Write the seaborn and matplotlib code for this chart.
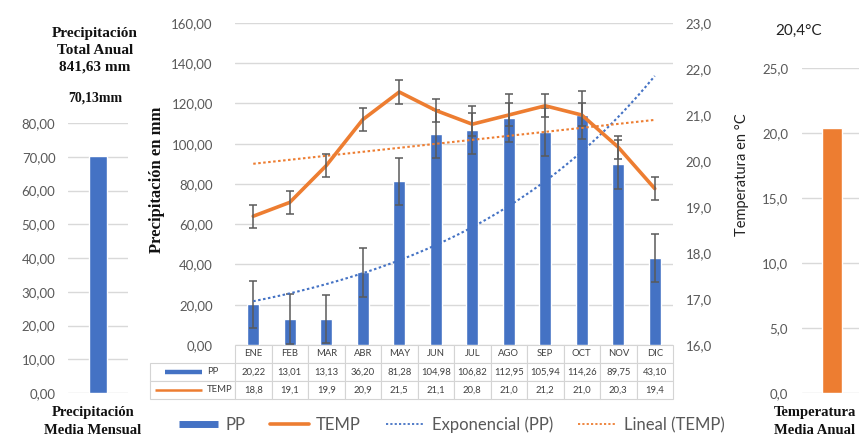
import numpy as np
import pandas as pd
import matplotlib
matplotlib.use("Agg")
import matplotlib.pyplot as plt
import seaborn as sns
from matplotlib.lines import Line2D

# ---- data ----
meses = ["ENE", "FEB", "MAR", "ABR", "MAY", "JUN", "JUL", "AGO", "SEP", "OCT", "NOV", "DIC"]
pp = [20.22, 13.01, 13.13, 36.20, 81.28, 104.98, 106.82, 112.95, 105.94, 114.26, 89.75, 43.10]
temp = [18.8, 19.1, 19.9, 20.9, 21.5, 21.1, 20.8, 21.0, 21.2, 21.0, 20.3, 19.4]
pp_err = [11.6, 12.3, 11.9, 12.2, 11.8, 12.0, 12.0, 12.0, 12.0, 12.0, 12.0, 12.0]
temp_err = [0.25, 0.25, 0.25, 0.25, 0.26, 0.25, 0.25, 0.25, 0.25, 0.25, 0.25, 0.25]
series = ["PP", "TEMP"]
pp_total_anual = 841.63
pp_media_mensual = 70.13
temp_media_anual = 20.4

BLUE = "#4472C4"
ORANGE = "#ED7D31"
GRID = "#D9D9D9"
TXT = "#595959"
ERR = "#5A5A5A"

sns.set_theme(style="white")
plt.rcParams["font.family"] = ["Lato", "DejaVu Sans"]

W, H = 859, 444
fig = plt.figure(figsize=(W / 100, H / 100), dpi=100)


def box(x0, y0, x1, y1):
    return [x0 / W, 1 - y1 / H, (x1 - x0) / W, (y1 - y0) / H]


def fmt(v, d):
    return f"{v:.{d}f}".replace(".", ",")


def clean(a):
    for s in a.spines.values():
        s.set_visible(False)
    a.set_xlabel("")
    a.set_ylabel("")


serif_bold = dict(family="Liberation Serif", weight="bold", color="#111111")

# ---- main chart: monthly precipitation bars + temperature line ----
ax = fig.add_axes(box(235, 23, 673, 345))
x = np.arange(len(meses))
df = pd.DataFrame({"mes": meses, "pp": pp, "temp": temp})
sns.barplot(data=df, x="mes", y="pp", color=BLUE, saturation=1, width=0.33,
            ax=ax, zorder=2)
ax.errorbar(x, pp, yerr=pp_err, fmt="none", ecolor=ERR, elinewidth=1.1,
            capsize=3, capthick=1.1, zorder=3)

# exponential trend of precipitation
c_exp = np.polyfit(x, np.log(pp), 1)
xs = np.linspace(0, len(meses) - 1, 200)
ax.plot(xs, np.exp(np.polyval(c_exp, xs)), color=BLUE, ls=(0, (1.2, 1.2)),
        lw=1.5, zorder=4)

ax.set_xlim(-0.5, len(meses) - 0.5)
ax.set_ylim(0, 160)
yt = np.arange(0, 161, 20)
ax.set_yticks(yt)
ax.set_yticklabels([fmt(v, 2) for v in yt])
ax.set_xticks([])
ax.tick_params(axis="y", length=0, pad=16, labelsize=9.5, labelcolor=TXT)
ax.yaxis.grid(True, color=GRID, lw=1)
ax.set_axisbelow(True)
clean(ax)

ax2 = ax.twinx()
sns.lineplot(x=x, y=temp, ax=ax2, color=ORANGE, lw=2.6, sort=False, zorder=3)
ax2.errorbar(x, temp, yerr=temp_err, fmt="none", ecolor=ERR, elinewidth=1.1,
             capsize=3, capthick=1.1, zorder=4)
c_lin = np.polyfit(x, temp, 1)
ax2.plot(xs, np.polyval(c_lin, xs), color=ORANGE, ls=(0, (1.2, 1.2)), lw=1.5,
         zorder=2)
ax2.set_ylim(16, 23)
yt2 = np.arange(16, 24, 1)
ax2.set_yticks(yt2)
ax2.set_yticklabels([fmt(v, 1) for v in yt2])
ax2.tick_params(axis="y", length=0, pad=9, labelsize=9.5, labelcolor=TXT)
ax2.grid(False)
ax2.set_xlim(-0.5, len(meses) - 0.5)
clean(ax2)

# data table below the plot: first column holds the series keys
lab_w = (235 - 150) / 438
tab_h = 54 / 322
cell_text = [[""] + [fmt(v, 2) for v in pp],
             [""] + [fmt(v, 1) for v in temp]]
tbl = ax.table(cellText=cell_text, colLabels=[""] + meses,
               colWidths=[lab_w] + [1 / len(meses)] * len(meses),
               cellLoc="center", bbox=[-lab_w, -tab_h, 1 + lab_w, tab_h])
tbl.auto_set_font_size(False)
for (r, c), cell in tbl.get_celld().items():
    cell.set_edgecolor("#D4D4D4")
    cell.set_linewidth(0.8)
    cell.get_text().set_fontsize(6.8)
    cell.get_text().set_color("#404040")
    if r == 0 and c == 0:
        cell.visible_edges = "open"

# series keys: a short line sample followed by the series name
for name, yk, x0, col, lw in [(series[0], -27 / 322, -70 / 438, BLUE, 3.2),
                              (series[1], -45 / 322, -80 / 438, ORANGE, 1.8)]:
    ax.plot([x0, -33 / 438], [yk, yk], color=col, lw=lw, transform=ax.transAxes,
            clip_on=False, solid_capstyle="butt")
    ax.text(-28 / 438, yk, name, transform=ax.transAxes, ha="left",
            va="center", fontsize=6.8, color="#404040")

fig.text(157 / W, 1 - 180 / H, "Precipitación en mm", rotation=90,
         ha="center", va="center", fontsize=12, **serif_bold)
fig.text(742 / W, 1 - 175 / H, "Temperatura en °C", rotation=90,
         ha="center", va="center", fontsize=10.5, color="#222222")

handles = [
    Line2D([], [], color=BLUE, lw=5, solid_capstyle="butt"),
    Line2D([], [], color=ORANGE, lw=2.6),
    Line2D([], [], color=BLUE, lw=1.3, ls=(0, (1.2, 1.2))),
    Line2D([], [], color=ORANGE, lw=1.3, ls=(0, (1.2, 1.2))),
]
fig.legend(handles, ["PP", "TEMP", "Exponencial (PP)", "Lineal (TEMP)"],
           loc="center", bbox_to_anchor=(452 / W, 1 - 425 / H), ncol=4,
           frameon=False, fontsize=12, handlelength=2.3, columnspacing=1.5,
           handletextpad=0.45, labelcolor=TXT)

# ---- left panel: mean monthly precipitation ----
axl = fig.add_axes(box(68, 123, 128, 393))
sns.barplot(x=["media"], y=[pp_media_mensual], color=BLUE, saturation=1,
            width=0.3, ax=axl, zorder=2)
axl.set_xlim(-0.5, 0.5)
axl.set_ylim(0, 80)
ytl = np.arange(0, 81, 10)
axl.set_yticks(ytl)
axl.set_yticklabels([fmt(v, 2) for v in ytl])
axl.set_xticks([])
axl.tick_params(axis="y", length=0, pad=9, labelsize=9.5, labelcolor=TXT)
axl.yaxis.grid(True, color=GRID, lw=1)
axl.set_axisbelow(True)
clean(axl)

fig.text(95 / W, 1 - 27 / H,
         f"Precipitación\nTotal Anual\n{fmt(pp_total_anual, 2)} mm",
         ha="center", va="top", fontsize=11, linespacing=1.4, **serif_bold)
fig.text(95 / W, 1 - 98 / H, f"{fmt(pp_media_mensual, 2)}mm",
         ha="center", va="center", fontsize=10, **serif_bold)
fig.text(93 / W, 1 - 406 / H, "Precipitación\nMedia Mensual",
         ha="center", va="top", fontsize=10.5, linespacing=1.45, **serif_bold)

# ---- right panel: mean annual temperature ----
axr = fig.add_axes(box(802, 68, 862, 393))
sns.barplot(x=["media"], y=[temp_media_anual], color=ORANGE, saturation=1,
            width=0.32, ax=axr, zorder=2)
axr.set_xlim(-0.5, 0.5)
axr.set_ylim(0, 25)
ytr = np.arange(0, 26, 5)
axr.set_yticks(ytr)
axr.set_yticklabels([fmt(v, 1) for v in ytr])
axr.set_xticks([])
axr.tick_params(axis="y", length=0, pad=10, labelsize=9.5, labelcolor=TXT)
axr.yaxis.grid(True, color=GRID, lw=1)
axr.set_axisbelow(True)
clean(axr)

fig.text(799 / W, 1 - 31 / H, f"{fmt(temp_media_anual, 1)}°C",
         ha="center", va="center", fontsize=11, color="#222222")
fig.text(774 / W, 1 - 406 / H, "Temperatura\nMedia Anual",
         ha="left", va="top", fontsize=10.5, linespacing=1.45, **serif_bold)

fig.savefig("out.png", dpi=100)
